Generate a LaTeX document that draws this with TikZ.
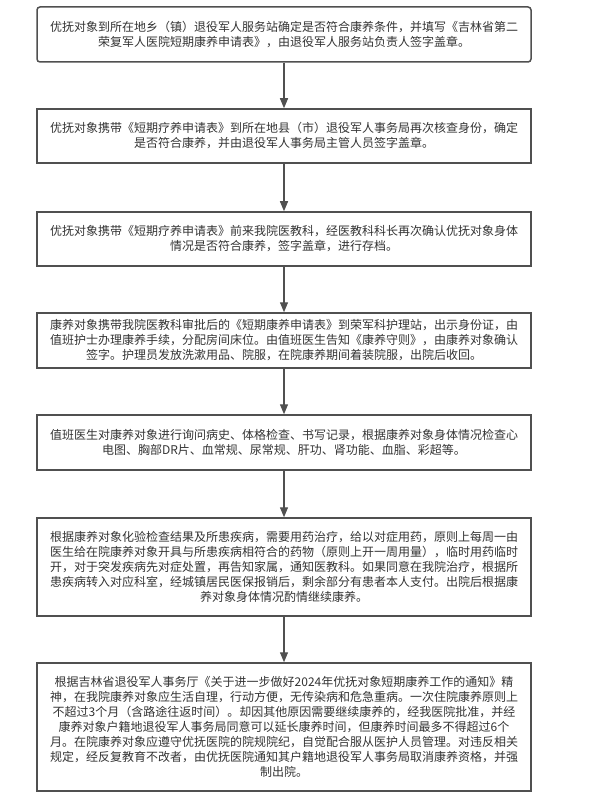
\documentclass[tikz,border=0pt]{standalone}
\usepackage{fontspec}
\setmainfont{Noto Sans CJK SC}
\usetikzlibrary{arrows.meta}
\definecolor{bordc}{HTML}{505050}
\definecolor{txtc}{HTML}{333333}
\tikzset{
  stepbox/.style={draw=bordc, line width=1.5pt, minimum width=494pt, text width=486pt,
    align=center, inner sep=0pt, text=txtc, font=\fontsize{12}{15}\selectfont},
  flowarrow/.style={draw=bordc, line width=1.3pt, -{Triangle[length=10pt,width=8pt]}}
}
\begin{document}
\begin{tikzpicture}[x=1pt,y=-1pt]
\useasboundingbox (0,0) rectangle (611,810);
\node[stepbox, rounded corners=3pt, minimum height=55pt] (b1) at (284,34.5) {优抚对象到所在地乡（镇）退役军人服务站确定是否符合康养条件，并填写《吉林省第二\\荣复军人医院短期康养申请表》，由退役军人服务站负责人签字盖章。};
\node[stepbox, minimum height=54pt] (b2) at (284,136) {优抚对象携带《短期疗养申请表》到所在地县（市）退役军人事务局再次核查身份，确定\\是否符合康养，并由退役军人事务局主管人员签字盖章。};
\node[stepbox, minimum height=54pt] (b3) at (284,239) {优抚对象携带《短期疗养申请表》前来我院医教科，经医教科科长再次确认优抚对象身体\\情况是否符合康养，签字盖章，进行存档。};
\node[stepbox, minimum height=55pt] (b4) at (284,340.5) {康养对象携带我院医教科审批后的《短期康养申请表》到荣军科护理站，出示身份证，由\\值班护士办理康养手续，分配房间床位。由值班医生告知《康养守则》，由康养对象确认\\签字。护理员发放洗漱用品、院服，在院康养期间着装院服，出院后收回。};
\node[stepbox, minimum height=55pt] (b5) at (284,442.5) {值班医生对康养对象进行询问病史、体格检查、书写记录，根据康养对象身体情况检查心\\电图、胸部DR片、血常规、尿常规、肝功、肾功能、血脂、彩超等。};
\node[stepbox, minimum height=98pt] (b6) at (284,567) {根据康养对象化验检查结果及所患疾病，需要用药治疗，给以对症用药，原则上每周一由\\医生给在院康养对象开具与所患疾病相符合的药物（原则上开一周用量），临时用药临时\\开，对于突发疾病先对症处置，再告知家属，通知医教科。如果同意在我院治疗，根据所\\患疾病转入对应科室，经城镇居民医保报销后，剩余部分有患者本人支付。出院后根据康\\养对象身体情况酌情继续康养。};
\node[stepbox, minimum height=128pt] (b7) at (284,727) {根据吉林省退役军人事务厅《关于进一步做好2024年优抚对象短期康养工作的通知》精\\神，在我院康养对象应生活自理，行动方便，无传染病和危急重病。一次住院康养原则上\\不超过3个月（含路途往返时间）。却因其他原因需要继续康养的，经我医院批准，并经\\康养对象户籍地退役军人事务局同意可以延长康养时间，但康养时间最多不得超过6个\\月。在院康养对象应遵守优抚医院的院规院纪，自觉配合服从医护人员管理。对违反相关\\规定，经反复教育不改者，由优抚医院通知其户籍地退役军人事务局取消康养资格，并强\\制出院。};
\draw[flowarrow] (b1) -- (b2);
\draw[flowarrow] (b2) -- (b3);
\draw[flowarrow] (b3) -- (b4);
\draw[flowarrow] (b4) -- (b5);
\draw[flowarrow] (b5) -- (b6);
\draw[flowarrow] (b6) -- (b7);
\end{tikzpicture}
\end{document}
